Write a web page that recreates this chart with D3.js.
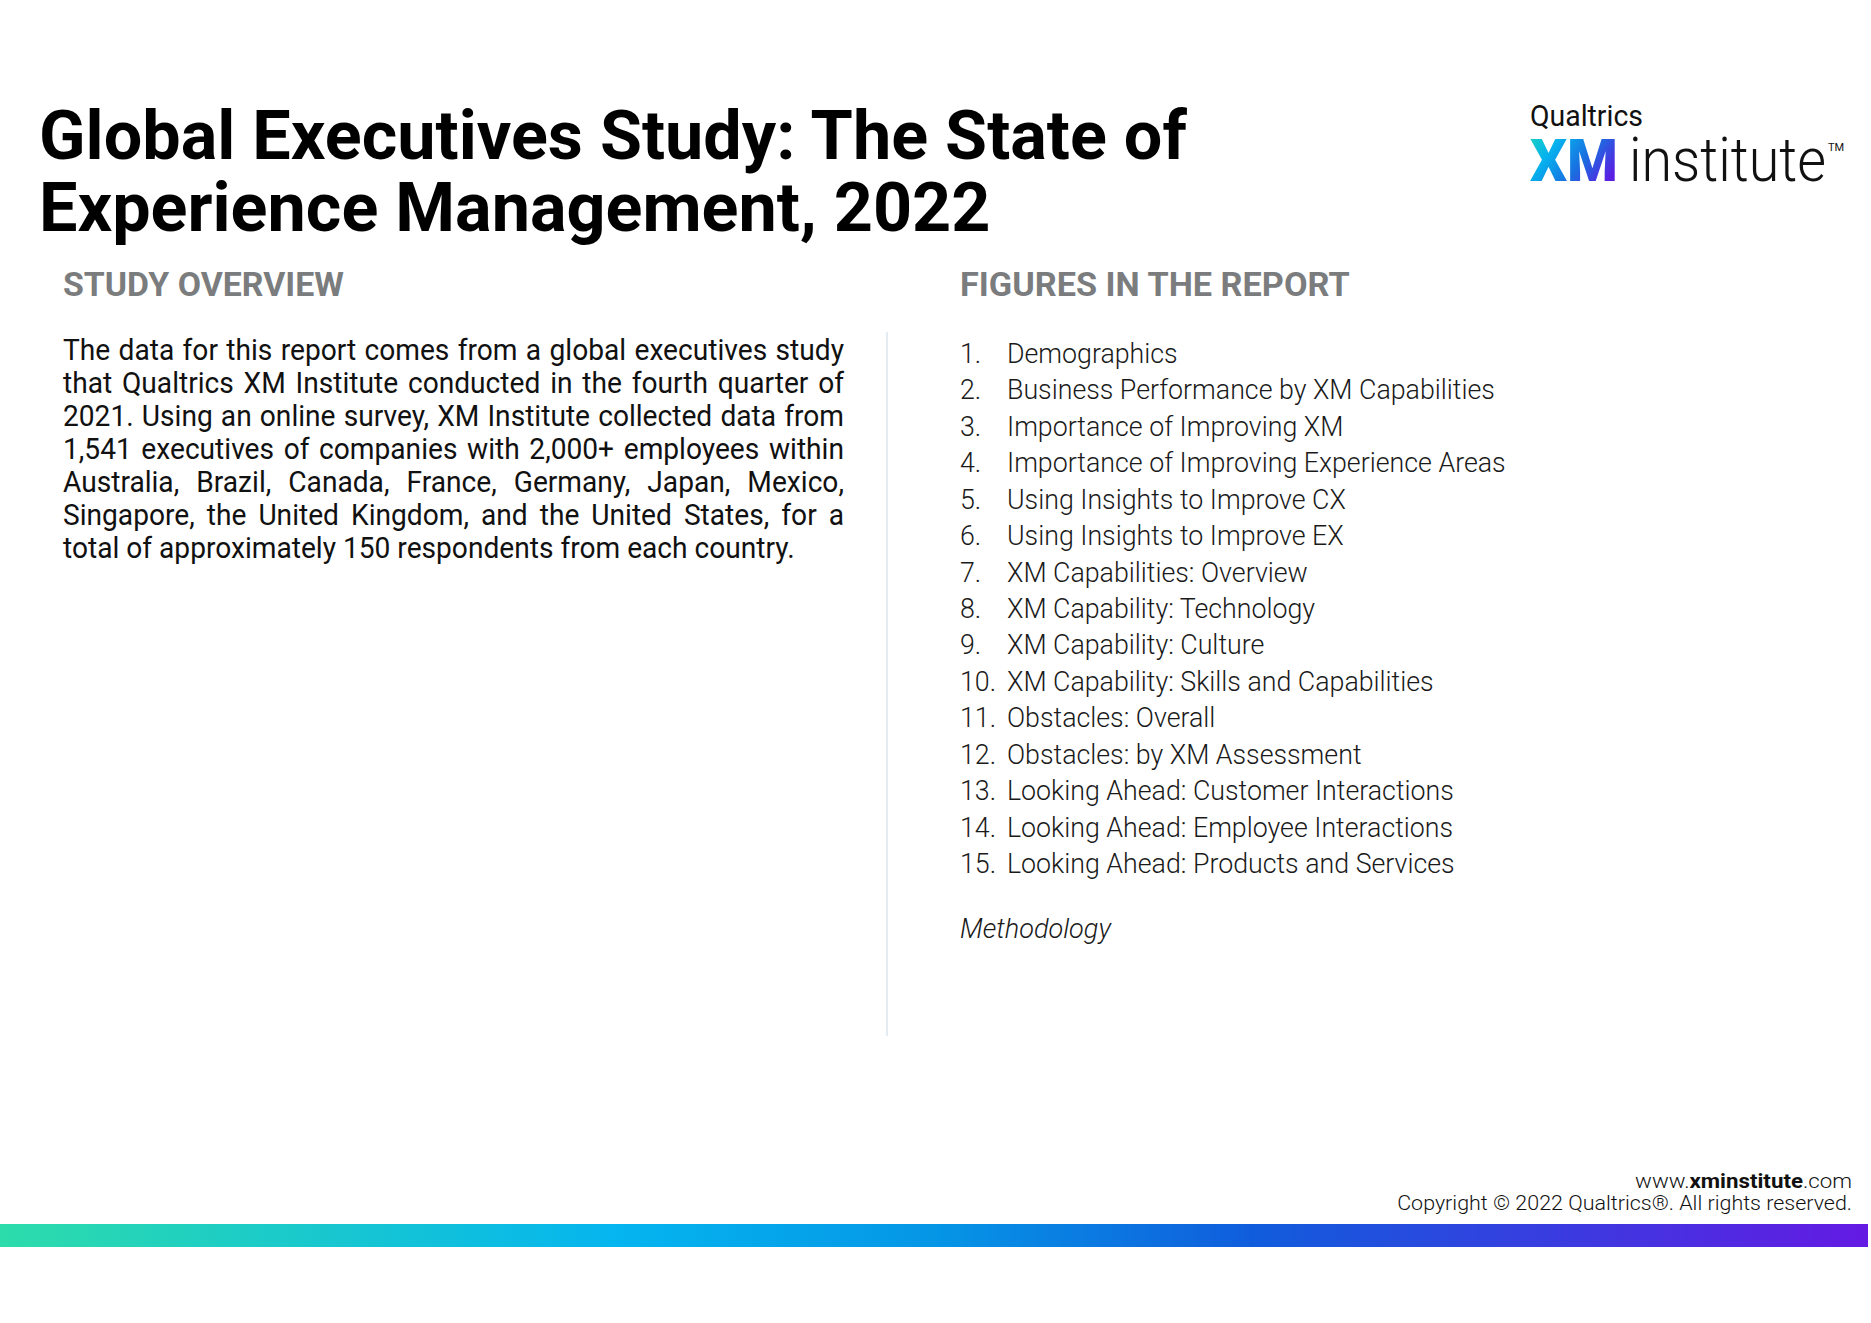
<!DOCTYPE html>
<html><head><meta charset="utf-8">
<script src="https://cdn.jsdelivr.net/npm/d3@7"></script>
<style>html,body{margin:0;padding:0;background:#fff;overflow:hidden;} svg{display:block;}</style>
</head><body>
<script>
// ---------- content ----------
const titleLines = ["Global Executives Study: The State of", "Experience Management, 2022"];
const overviewHeading = "STUDY OVERVIEW";
const figuresHeading = "FIGURES IN THE REPORT";
const overviewLines = [
  "The data for this report comes from a global executives study",
  "that Qualtrics XM Institute conducted in the fourth quarter of",
  "2021. Using an online survey, XM Institute collected data from",
  "1,541 executives of companies with 2,000+ employees within",
  "Australia, Brazil, Canada, France, Germany, Japan, Mexico,",
  "Singapore, the United Kingdom, and the United States, for a",
  "total of approximately 150 respondents from each country."
];
const figureNumbers = ["1.","2.","3.","4.","5.","6.","7.","8.","9.","10.","11.","12.","13.","14.","15."];
const figureTitles = [
  "Demographics",
  "Business Performance by XM Capabilities",
  "Importance of Improving XM",
  "Importance of Improving Experience Areas",
  "Using Insights to Improve CX",
  "Using Insights to Improve EX",
  "XM Capabilities: Overview",
  "XM Capability: Technology",
  "XM Capability: Culture",
  "XM Capability: Skills and Capabilities",
  "Obstacles: Overall",
  "Obstacles: by XM Assessment",
  "Looking Ahead: Customer Interactions",
  "Looking Ahead: Employee Interactions",
  "Looking Ahead: Products and Services"
];
const methodologyLabel = "Methodology";
const logoTop = "Qualtrics";
const logoMark = "XM";
const logoWord = "institute";
const footerUrlParts = ["www.", "xminstitute", ".com"];
const footerCopyright = "Copyright \u00A9 2022 Qualtrics\u00AE. All rights reserved.";
const barColors = ["#2ddcaa", "#05b5ef", "#0596e6", "#105ddc", "#641ae3"];
const markColors = ["#22d9b5", "#05b2ee", "#1a6ee0", "#5a1fe2"];

// ---------- page ----------
const W = 1871, H = 1323;
const FONT = "Roboto, 'Liberation Sans', sans-serif";
const svg = d3.select("body").append("svg").attr("width", W).attr("height", H);
const defs = svg.append("defs");

function squeeze(sel, x0, target) {
  const w = sel.node().getComputedTextLength();
  const sx = target / w;
  sel.attr("transform", `translate(${x0},0) scale(${sx},1) translate(${-x0},0)`);
  return sx;
}
function scaleAbout(sel, x0, sx) {
  sel.attr("transform", `translate(${x0},0) scale(${sx},1) translate(${-x0},0)`);
}

// ---------- title ----------
const titleY = d3.scalePoint().domain(d3.range(titleLines.length)).range([159, 231]);
const titleG = svg.append("g");
const tl = titleG.selectAll("text").data(titleLines).join("text")
  .attr("x", 39).attr("y", (d, i) => titleY(i))
  .attr("font-family", FONT).attr("font-weight", 700).attr("font-size", 68)
  .attr("fill", "#000").text(d => d);
const tsx = squeeze(tl.filter((d, i) => i === 0), 39, 1148);
scaleAbout(tl.filter((d, i) => i === 1), 39, tsx);

// ---------- logo ----------
svg.append("text").attr("x", 1530).attr("y", 126)
  .attr("font-family", FONT).attr("font-weight", 400).attr("font-size", 29)
  .attr("fill", "#111").text(logoTop)
  .call(s => squeeze(s, 1530, 113));

const mg = defs.append("linearGradient").attr("id", "markGrad")
  .attr("x1", "0").attr("y1", "0").attr("x2", "1").attr("y2", "0.6");
const markStop = d3.scaleLinear().domain([0, markColors.length - 1]).range([0, 1]);
mg.selectAll("stop").data(markColors).join("stop")
  .attr("offset", (d, i) => markStop(i)).attr("stop-color", d => d);
svg.append("text").attr("x", 1530).attr("y", 181)
  .attr("font-family", FONT).attr("font-weight", 900).attr("font-size", 60)
  .attr("fill", "url(#markGrad)").text(logoMark)
  .call(s => squeeze(s, 1530, 88));
svg.append("text").attr("x", 1629).attr("y", 181)
  .attr("font-family", FONT).attr("font-weight", 300).attr("font-size", 62)
  .attr("fill", "#111").text(logoWord)
  .call(s => squeeze(s, 1629, 197));
svg.append("text").attr("x", 1828).attr("y", 151)
  .attr("font-family", FONT).attr("font-weight", 400).attr("font-size", 11)
  .attr("fill", "#111").text("TM");

// ---------- section headings ----------
const headX = [63, 960], headW = [281, 390];
svg.selectAll("text.head").data([overviewHeading, figuresHeading]).join("text")
  .attr("class", "head")
  .attr("x", (d, i) => headX[i]).attr("y", 296)
  .attr("font-family", FONT).attr("font-weight", 700).attr("font-size", 33)
  .attr("fill", "#7b7c7e").text(d => d)
  .each(function(d, i) { squeeze(d3.select(this), headX[i], headW[i]); });

// ---------- overview paragraph (justified) ----------
const paraX0 = 63, paraX1 = 844;
const paraY = d3.scalePoint().domain(d3.range(overviewLines.length)).range([360, 558]);
const paraG = svg.append("g");
const paraFont = s => s.attr("font-family", FONT).attr("font-weight", 400)
  .attr("font-size", 29.5).attr("fill", "#111");
// last line is unjustified; use it to set horizontal compression
const lastIdx = overviewLines.length - 1;
const lastLine = paraG.append("text").attr("x", paraX0).attr("y", paraY(lastIdx))
  .call(paraFont).text(overviewLines[lastIdx]);
const psx = squeeze(lastLine, paraX0, 732);
overviewLines.slice(0, lastIdx).forEach((line, li) => {
  const words = line.split(" ");
  const tmp = words.map(w => paraG.append("text").attr("y", paraY(li)).call(paraFont).text(w));
  const widths = tmp.map(t => t.node().getComputedTextLength() * psx);
  const gap = (paraX1 - paraX0 - d3.sum(widths)) / (words.length - 1);
  let x = paraX0;
  tmp.forEach((t, k) => {
    t.attr("x", x);
    scaleAbout(t, x, psx);
    x += widths[k] + gap;
  });
});

// ---------- divider ----------
svg.append("line").attr("x1", 887).attr("x2", 887).attr("y1", 332).attr("y2", 1036)
  .attr("stroke", "#dbe5ec").attr("stroke-width", 1.5);

// ---------- figure list ----------
const listY = d3.scalePoint().domain(d3.range(figureTitles.length)).range([363, 873]);
const listFont = s => s.attr("font-family", FONT).attr("font-weight", 300)
  .attr("font-size", 28).attr("fill", "#1a1a1a");
const longest = figureTitles.indexOf("Importance of Improving Experience Areas");
const titles = svg.selectAll("text.fig").data(figureTitles).join("text")
  .attr("class", "fig").attr("x", 1007).attr("y", (d, i) => listY(i))
  .call(listFont).text(d => d);
const lsx = squeeze(titles.filter((d, i) => i === longest), 1007, 499);
titles.filter((d, i) => i !== longest).each(function() { scaleAbout(d3.select(this), 1007, lsx); });
svg.selectAll("text.num").data(figureNumbers).join("text")
  .attr("class", "num").attr("x", 960).attr("y", (d, i) => listY(i))
  .call(listFont).text(d => d)
  .each(function() { scaleAbout(d3.select(this), 960, lsx); });

svg.append("text").attr("x", 960).attr("y", 938)
  .call(listFont).attr("font-style", "italic").text(methodologyLabel)
  .call(s => squeeze(s, 960, 151));

// ---------- footer ----------
const url = svg.append("text").attr("x", 1852).attr("y", 1188).attr("text-anchor", "end")
  .attr("font-family", FONT).attr("font-size", 21).attr("font-weight", 300).attr("fill", "#111");
url.selectAll("tspan").data(footerUrlParts).join("tspan")
  .attr("font-weight", (d, i) => i === 1 ? 700 : 300).text(d => d);
squeeze(url, 1852, 217);
svg.append("text").attr("x", 1852).attr("y", 1210).attr("text-anchor", "end")
  .attr("font-family", FONT).attr("font-size", 21).attr("font-weight", 300).attr("fill", "#111")
  .text(footerCopyright)
  .call(s => squeeze(s, 1852, 455));

// ---------- gradient bar ----------
const bg = defs.append("linearGradient").attr("id", "barGrad")
  .attr("x1", "0").attr("x2", "1").attr("y1", "0").attr("y2", "0");
const barStop = d3.scaleLinear().domain([0, 1, 2, 3, 4]).range([0, 0.33, 0.5, 0.67, 1]);
bg.selectAll("stop").data(barColors).join("stop")
  .attr("offset", (d, i) => barStop(i)).attr("stop-color", d => d);
svg.append("rect").attr("x", 0).attr("y", 1224).attr("width", 1868).attr("height", 23)
  .attr("fill", "url(#barGrad)");
</script>
</body></html>
